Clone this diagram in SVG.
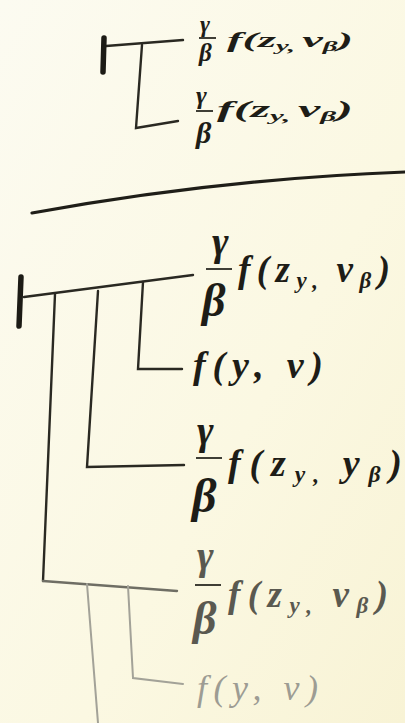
<svg xmlns="http://www.w3.org/2000/svg" width="405" height="723" viewBox="0 0 405 723">
  <defs>
    <linearGradient id="paper" x1="0" y1="0" x2="1" y2="1">
      <stop offset="0" stop-color="#fcfbf1"/>
      <stop offset="0.6" stop-color="#fbf8e2"/>
      <stop offset="1" stop-color="#f8f3d5"/>
    </linearGradient>
    <style>
      .m { font-family: "Liberation Serif", "DejaVu Serif", serif; font-style: italic; font-weight: bold; fill: #1e1d17; }
      .gray { fill: #5a5950; }
      .light { fill: #9d9c93; font-weight: normal; }
      .sub { font-size: 0.62em; }
      .ln { fill: none; stroke: #2a2922; stroke-width: 2.4; stroke-linecap: round; }
      .frac { stroke: #2a2922; stroke-width: 1.8; }
      .tick { fill: none; stroke: #1c1b15; stroke-width: 5.5; stroke-linecap: round; }
      .lg { stroke: #6f6e64; }
      .ll { stroke: #a3a298; stroke-width: 2; }
    </style>
  </defs>
  <rect width="405" height="723" fill="url(#paper)"/>

  <!-- page rule -->
  <path d="M32,213 Q218,179 405,172" fill="none" stroke="#1f1e18" stroke-width="3.2" stroke-linecap="round"/>

  <g id="connectors">
    <!-- upper tree -->
    <line class="ln" x1="106" y1="46" x2="183" y2="40"/>
    <polyline class="ln" points="142,45 136,128 178,121"/>
    <!-- lower tree -->
    <line class="ln" x1="24" y1="297" x2="193" y2="275"/>
    <polyline class="ln" points="143,282 138,369 182,369"/>
    <polyline class="ln" points="98,291 87,467 184,465"/>
    <line class="ln" x1="55" y1="294" x2="43" y2="581" stroke="#3c3b33"/>
    <line class="ln lg" x1="43" y1="581" x2="177" y2="591"/>
    <line class="ln ll" x1="87" y1="584" x2="98" y2="723"/>
    <polyline class="ln ll" points="128,586 133,678 183,684"/>
  </g>

  <g id="root-upper">
    <line class="tick" x1="104" y1="38" x2="103" y2="72"/>
  </g>

  <g id="upper-1">
    <text class="m" x="200" y="32" font-size="24">γ</text>
    <line class="frac" x1="199" y1="38" x2="216" y2="38"/>
    <text class="m" x="199" y="61" font-size="25">β</text>
    <text class="m" x="227" y="47" font-size="22" textLength="126" lengthAdjust="spacingAndGlyphs">f(z<tspan class="sub" dy="4">y</tspan><tspan class="sub">, </tspan><tspan dy="-4">v</tspan><tspan class="sub" dy="4">β</tspan><tspan dy="-4">)</tspan></text>
  </g>

  <g id="upper-2">
    <text class="m" x="196" y="104" font-size="26">γ</text>
    <line class="frac" x1="196" y1="111" x2="213" y2="111"/>
    <text class="m" x="196" y="143" font-size="30">β</text>
    <text class="m" x="217" y="117" font-size="23" textLength="136" lengthAdjust="spacingAndGlyphs">f(z<tspan class="sub" dy="4">y</tspan><tspan class="sub">, </tspan><tspan dy="-4">v</tspan><tspan class="sub" dy="4">β</tspan><tspan dy="-4">)</tspan></text>
  </g>

  <g id="root-lower">
    <line class="tick" x1="21" y1="277" x2="19" y2="326" stroke-width="6"/>
  </g>

  <g id="lower-1">
    <text class="m" x="212" y="255" font-size="40">γ</text>
    <line class="frac" x1="206" y1="269" x2="232" y2="269"/>
    <text class="m" x="202" y="316" font-size="46">β</text>
    <text class="m" x="238" y="282" font-size="37" textLength="152" lengthAdjust="spacing">f(z<tspan class="sub" dy="6">y</tspan><tspan class="sub">, </tspan><tspan dy="-6">v</tspan><tspan class="sub" dy="6">β</tspan><tspan dy="-6">)</tspan></text>
  </g>

  <g id="lower-2">
    <text class="m" x="193" y="378" font-size="38" textLength="130" lengthAdjust="spacing">f(y, v)</text>
  </g>

  <g id="lower-3">
    <text class="m" x="197" y="444" font-size="40">γ</text>
    <line class="frac" x1="196" y1="458" x2="222" y2="458"/>
    <text class="m" x="192" y="512" font-size="48">β</text>
    <text class="m" x="228" y="476" font-size="38" textLength="174" lengthAdjust="spacing">f(z<tspan class="sub" dy="6">y</tspan><tspan class="sub">, </tspan><tspan dy="-6">y</tspan><tspan class="sub" dy="6">β</tspan><tspan dy="-6">)</tspan></text>
  </g>

  <g id="lower-4">
    <text class="m gray" x="197" y="569" font-size="40">γ</text>
    <line class="frac" stroke="#6f6e64" x1="195" y1="585" x2="221" y2="585"/>
    <text class="m gray" x="193" y="634" font-size="46">β</text>
    <text class="m gray" x="228" y="607" font-size="37" textLength="160" lengthAdjust="spacing">f(z<tspan class="sub" dy="6">y</tspan><tspan class="sub">, </tspan><tspan dy="-6">v</tspan><tspan class="sub" dy="6">β</tspan><tspan dy="-6">)</tspan></text>
  </g>

  <g id="lower-5">
    <text class="m light" x="197" y="700" font-size="36" textLength="121" lengthAdjust="spacing">f(y, v)</text>
  </g>
</svg>
